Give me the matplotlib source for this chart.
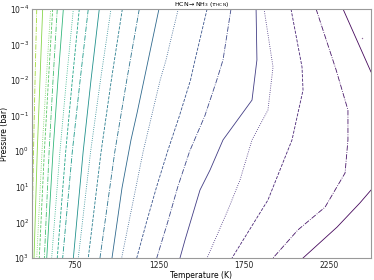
import matplotlib
matplotlib.use("Agg")
import matplotlib.pyplot as plt
import numpy as np
from matplotlib.ticker import NullLocator, LogLocator

# Contour lines of tau_HCN: (pressures [bar], temperatures [K]) per line
line_P = [
    [1e-4, 1e-3],
    [1e-4, 1e-2, 1e0, 1e3],
    [1e-4, 1e-2, 1e0, 1e3],
    [1e-4, 1e-2, 1e0, 1e3],
    [1e-4, 1e-2, 1e0, 1e3],
    [1e-4, 1e-2, 1e0, 1e3],
    [1e-4, 1e-2, 1e0, 1e3],
    [1e-4, 1e-2, 1e0, 1e3],
    [1e-4, 1e-2, 1e0, 1e3],
    [1e-4, 1e-2, 1e0, 1e3],
    [1e-4, 1e-2, 1e0, 1e3],
    [1e-4, 1e-2, 1e0, 1e3],
    [1e-4, 1e-2, 1e0, 1e3],
    [1e-4, 1e-2, 1e0, 1e3],
    [1e-4, 10**-1.08, 10**-0.32, 10**1.03, 1e3],
    [1e-4, 10**-3.04, 10**-2.57, 1e-2, 1e0, 1e3],
    [1e-4, 10**-2.57, 1e-2, 1e-1, 1e0, 1e1, 1e2, 1e3],
    [1e-4, 10**-2.57, 1e-2, 1e-1, 1e0, 1e1, 1e2, 1e3],
    [1e-4, 10**-2.57, 10**-1.44, 10**-0.32, 10**0.53, 10**1.09, 10**2.49, 1e3],
    [1e-4, 10**-2.37, 10**-1.16, 10**-0.32, 10**0.81, 10**1.65, 1e3],
    [1e-4, 10**-2.37, 10**-1.72, 10**-0.32, 10**1.37, 1e3],
    [1e-4, 10**-2.29, 10**-1.16, 10**-0.32, 10**0.61, 10**1.57, 10**2.21, 1e3],
    [1e-4, 10**-2.23, 1e-2],
    [10**0.81, 10**1.09, 10**1.45, 10**2.13, 1e3],
]
line_T = [
    [504, 494],
    [528, 518, 509, 498],
    [563, 547, 531, 512],
    [610, 584, 559, 528],
    [622, 597, 573, 543],
    [649, 624, 601, 573],
    [685, 653, 624, 587],
    [744, 703, 665, 616],
    [779, 738, 699, 649],
    [832, 784, 738, 681],
    [897, 848, 802, 744],
    [966, 904, 846, 773],
    [1033, 968, 908, 832],
    [1133, 1059, 989, 901],
    [1249, 1120, 1084, 1031, 972],
    [1363, 1314, 1291, 1256, 1156, 1029],
    [1533, 1462, 1435, 1370, 1300, 1235, 1175, 1118],
    [1674, 1627, 1590, 1520, 1430, 1360, 1300, 1236],
    [1822, 1827, 1798, 1627, 1550, 1491, 1403, 1373],
    [1869, 1922, 1892, 1798, 1727, 1656, 1533],
    [2028, 2093, 2099, 2034, 1892, 1680],
    [2176, 2294, 2364, 2364, 2347, 2229, 2069, 1922],
    [2335, 2500, 2553],
    [2583, 2500, 2435, 2300, 2099],
]
# contour level index of each line (last two are pieces of the same level)
line_level = list(range(23)) + [22]

# tiny closed contour near the upper right corner
island_T = [2447]
island_P = [10**-3.18]

x_ticks = [750, 1250, 1750, 2250]
title = r"HCN$\rightarrow$NH$_3$ ($\tau_{\rm HCN}$)"

fig = plt.figure(figsize=(3.74, 2.8), dpi=100)
ax = fig.add_axes([32/374, 22/280, 339/374, 249/280])

cmap = plt.get_cmap("viridis")
styles = ["solid", "dotted", "dashed", "dashdot"]
for P, T, lev in zip(line_P, line_T, line_level):
    c = cmap(0.9 - 0.04 * lev)
    ls = styles[(lev - 2) % 4]
    ax.plot(T, P, color=c, lw=0.6, ls=ls)
ax.plot(island_T, island_P, ls="none", marker="o", ms=1.0, mew=0,
        color=cmap(0.02), alpha=0.6)

ax.set_yscale("log")
ax.set_xlim(500, 2500)
ax.set_ylim(1e3, 1e-4)
ax.set_xticks(x_ticks)
ax.yaxis.set_major_locator(LogLocator(base=10, numticks=20))
ax.yaxis.set_minor_locator(NullLocator())
ax.xaxis.set_minor_locator(NullLocator())
ax.tick_params(labelsize=5.5, length=0, pad=2, colors="#222222")
for s in ax.spines.values():
    s.set_color("#999999")
    s.set_linewidth(0.8)
ax.set_xlabel("Temperature (K)", fontsize=5.5, labelpad=1)
ax.set_ylabel("Pressure (bar)", fontsize=5.5)
ax.yaxis.set_label_coords(-0.068, 0.5)
ax.set_title(title, fontsize=4.5, pad=1.5)

fig.savefig("out.png", dpi=100)
